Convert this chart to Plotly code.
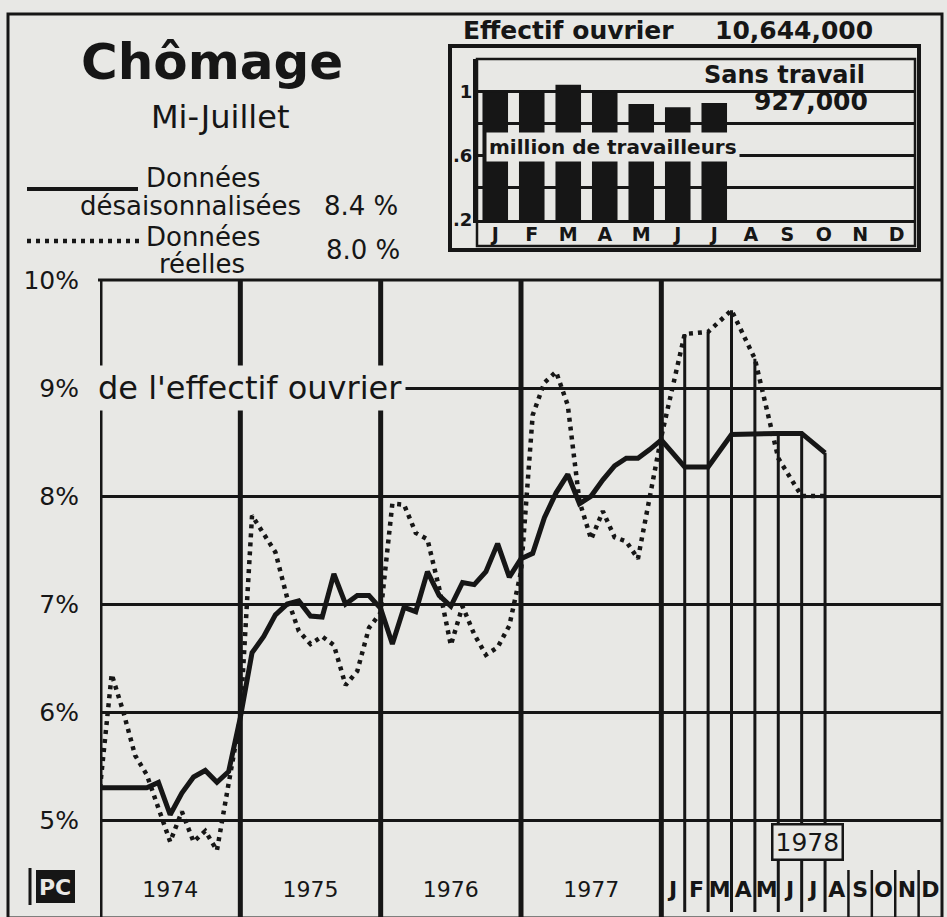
import plotly.graph_objects as go

W, H = 947, 917
BG = '#e8e8e5'
INK = '#161616'
FONT = 'DejaVu Sans'

# ---------------- data ----------------
years = [1974, 1975, 1976, 1977]
months_1978 = ['J', 'F', 'M', 'A', 'M', 'J', 'J', 'A', 'S', 'O', 'N', 'D']

# Taux de chômage (%), données désaisonnalisées (trait plein)
desais_dec1973 = [5.3]
desais_1974 = [5.3, 5.3, 5.3, 5.3, 5.35, 5.05, 5.25, 5.4, 5.46, 5.35, 5.45, 5.95]
desais_1975 = [6.55, 6.7, 6.9, 7.0, 7.03, 6.89, 6.88, 7.28, 7.0, 7.08, 7.08, 6.96]
desais_1976 = [6.63, 6.97, 6.93, 7.3, 7.08, 6.98, 7.2, 7.18, 7.3, 7.56, 7.25, 7.42]
desais_1977 = [7.47, 7.8, 8.03, 8.2, 7.93, 8.0, 8.15, 8.28, 8.35, 8.35, 8.43, 8.52]
desais_1978 = [8.27, 8.27, 8.57, 8.58, 8.58, 8.58, 8.4]

# Taux de chômage (%), données réelles (pointillé)
reel_dec1973 = [5.3]
reel_1974 = [6.35, 6.0, 5.6, 5.42, 5.1, 4.8, 5.08, 4.8, 4.9, 4.72, 5.34, 5.95]
reel_1975 = [7.82, 7.65, 7.48, 7.06, 6.75, 6.63, 6.7, 6.62, 6.25, 6.38, 6.78, 6.92]
reel_1976 = [7.93, 7.92, 7.66, 7.6, 7.15, 6.62, 6.98, 6.72, 6.53, 6.6, 6.8, 7.3]
reel_1977 = [8.75, 9.05, 9.15, 8.84, 7.95, 7.6, 7.86, 7.62, 7.58, 7.42, 8.0, 8.55]
reel_1978 = [9.5, 9.52, 9.72, 9.27, 8.35, 8.0, 8.0]

latest_desais = '8.4 %'
latest_reel = '8.0 %'

# Encadré : sans travail 1978 (millions)
sans_travail_1978 = [0.99, 0.99, 1.04, 0.99, 0.92, 0.90, 0.927]
effectif_ouvrier = '10,644,000'
sans_travail_label = '927,000'

# ---------------- helpers ----------------
def px(x):
    return x / W

def py(y):
    return 1 - y / H

# x scale: one unit per month for 1974-1977, two units per month for 1978
def xpos_old(year_idx, m):
    return 12 * year_idx + m

def xpos_1978(m):
    return 48 + 2 * m

xs = [0]
for i in range(len(years)):
    for m in range(1, 13):
        xs.append(xpos_old(i, m))
xs += [xpos_1978(m) for m in range(1, len(desais_1978) + 1)]

desais = desais_dec1973 + desais_1974 + desais_1975 + desais_1976 + desais_1977 + desais_1978
reel = reel_dec1973 + reel_1974 + reel_1975 + reel_1976 + reel_1977 + reel_1978

YMIN, YMAX = 4.15, 10.0

fig = go.Figure()

# 1978 drop lines (month boundaries up to the higher series)
dx, dy = [], []
for m, (a, b) in enumerate(zip(desais_1978, reel_1978), start=1):
    dx += [xpos_1978(m), xpos_1978(m), None]
    dy += [YMIN, max(a, b), None]
fig.add_trace(go.Scatter(x=dx, y=dy, mode='lines', line=dict(color=INK, width=3),
                         hoverinfo='skip', showlegend=False))

fig.add_trace(go.Scatter(x=xs, y=reel, mode='lines',
                         line=dict(color=INK, width=4.5, dash='4px,5px'),
                         showlegend=False, name='Données réelles'))
fig.add_trace(go.Scatter(x=xs, y=desais, mode='lines',
                         line=dict(color=INK, width=5), showlegend=False,
                         name='Données désaisonnalisées'))

# inset bars
fig.add_trace(go.Bar(x=list(range(len(sans_travail_1978))), y=sans_travail_1978,
                     xaxis='x2', yaxis='y2', marker=dict(color=INK, line=dict(width=0)),
                     width=0.7, showlegend=False))

x_tickvals = [12 * i + 6 for i in range(len(years))] + [48 + 2 * k + 1 for k in range(12)]
x_ticktext = [str(y) for y in years] + ['<b>%s</b>' % m for m in months_1978]

fig.update_layout(
    width=W, height=H,
    paper_bgcolor=BG, plot_bgcolor=BG,
    margin=dict(l=0, r=0, t=0, b=0, autoexpand=False),
    xaxis=dict(domain=[px(100), px(942)], range=[0, 72], showgrid=False, zeroline=False,
               showline=False, tickvals=x_tickvals, ticktext=x_ticktext, ticks='',
               ticklabelposition='inside', ticklabelstandoff=8,
               tickfont=dict(family=FONT, size=22, color=INK)),
    yaxis=dict(domain=[py(912), py(280)], range=[YMIN, YMAX], showgrid=True,
               gridcolor=INK, gridwidth=3, zeroline=False, showline=False,
               tickvals=[5, 6, 7, 8, 9, 10], ticktext=['5%', '6%', '7%', '8%', '9%', '10%'],
               ticks='', ticklabelstandoff=20,
               tickfont=dict(family=FONT, size=25, color=INK)),
    xaxis2=dict(domain=[px(477), px(915)], range=[-0.5, 11.5], anchor='y2',
                showgrid=False, zeroline=False, showline=True, linecolor=INK, linewidth=3,
                tickvals=list(range(12)), ticktext=months_1978, ticks='',
                ticklabelstandoff=-5,
                tickfont=dict(family=FONT, size=19, color=INK, weight='bold')),
    yaxis2=dict(domain=[py(220), py(59)], range=[0.2, 1.2], anchor='x2',
                showgrid=True, gridcolor=INK, gridwidth=2.5, zeroline=False,
                showline=True, linecolor=INK, linewidth=4,
                tickvals=[0.2, 0.6, 1.0], ticktext=['.2', '.6', '1'], ticks='',
                ticklabelstandoff=-3,
                tickfont=dict(family=FONT, size=18, color=INK, weight='bold'),
                minor=dict(tickvals=[0.4, 0.8, 1.2], showgrid=True, gridcolor=INK,
                           gridwidth=2.5, ticks='')),
    bargap=0.3,
)

shapes = []
# year boundaries (thick)
for xv in [0, 12, 24, 36, 48]:
    shapes.append(dict(type='line', xref='x', yref='paper', x0=xv, x1=xv,
                       y0=py(917), y1=py(280), line=dict(color=INK, width=5), layer='between'))
# top border of main chart
shapes.append(dict(type='line', xref='paper', yref='paper', x0=px(98), x1=px(942),
                   y0=py(280), y1=py(280), line=dict(color=INK, width=3)))
# short separators for Aug-Dec labels
for m in range(8, 12):
    xv = xpos_1978(m)
    shapes.append(dict(type='line', xref='x', yref='paper', x0=xv, x1=xv,
                       y0=py(917), y1=py(870), line=dict(color=INK, width=2.5)))
# outer frame
shapes.append(dict(type='rect', xref='paper', yref='paper', x0=px(8), x1=px(942),
                   y0=py(918), y1=py(14), line=dict(color=INK, width=3)))
# inset boxes
shapes.append(dict(type='rect', xref='paper', yref='paper', x0=px(450), x1=px(919),
                   y0=py(250), y1=py(46), line=dict(color=INK, width=4)))
shapes.append(dict(type='rect', xref='paper', yref='paper', x0=px(477), x1=px(915),
                   y0=py(246), y1=py(59), line=dict(color=INK, width=2.5)))
# legend samples
shapes.append(dict(type='line', xref='paper', yref='paper', x0=px(27), x1=px(138),
                   y0=py(189), y1=py(189), line=dict(color=INK, width=4)))
shapes.append(dict(type='line', xref='paper', yref='paper', x0=px(27), x1=px(140),
                   y0=py(241), y1=py(241), line=dict(color=INK, width=4.5, dash='4px,5px')))
# PC logo
shapes.append(dict(type='rect', xref='paper', yref='paper', x0=px(36), x1=px(75),
                   y0=py(903), y1=py(870), fillcolor=INK, line=dict(width=0)))
shapes.append(dict(type='line', xref='paper', yref='paper', x0=px(30), x1=px(30),
                   y0=py(905), y1=py(868), line=dict(color=INK, width=3)))
fig.update_layout(shapes=shapes)

anns = []
def ann(text, x, y, size, xanchor='center', weight='normal', color=INK, **kw):
    d = dict(text=text, x=px(x), y=py(y), xref='paper', yref='paper', showarrow=False,
             xanchor=xanchor, yanchor='middle',
             font=dict(family=FONT, size=size, color=color, weight=weight))
    d.update(kw)
    anns.append(d)

ann('Chômage', 212, 62, 50, weight='bold')
ann('Mi-Juillet', 220, 117, 32)
ann('Données', 144, 178, 26, xanchor='left')
ann('désaisonnalisées', 78, 206, 26, xanchor='left')
ann(latest_desais, 322, 206, 26, xanchor='left')
ann('Données', 144, 237, 26, xanchor='left')
ann('réelles', 157, 264, 26, xanchor='left')
ann(latest_reel, 324, 250, 26, xanchor='left')
ann("de l'effectif ouvrier", 94, 388, 32, xanchor='left', bgcolor=BG, borderpad=3)
ann('1978', 807, 842, 25, bgcolor=BG, bordercolor=INK, borderwidth=2.5, borderpad=2)
ann('PC', 55, 887, 22, weight='bold', color=BG)
ann('Effectif ouvrier', 568, 30, 25, weight='bold')
ann(effectif_ouvrier, 794, 30, 25, weight='bold')
ann('Sans travail', 784, 75, 24, weight='bold')
ann(sans_travail_label, 811, 101, 25, weight='bold')
ann('million de travailleurs', 486, 147, 20, xanchor='left', weight='bold',
    bgcolor=BG, borderpad=2)
fig.update_layout(annotations=anns)

fig.write_html('out.html', config={'displayModeBar': False},
               post_script="document.body.style.margin='0px';"
                           "document.body.style.background='%s';" % BG)
